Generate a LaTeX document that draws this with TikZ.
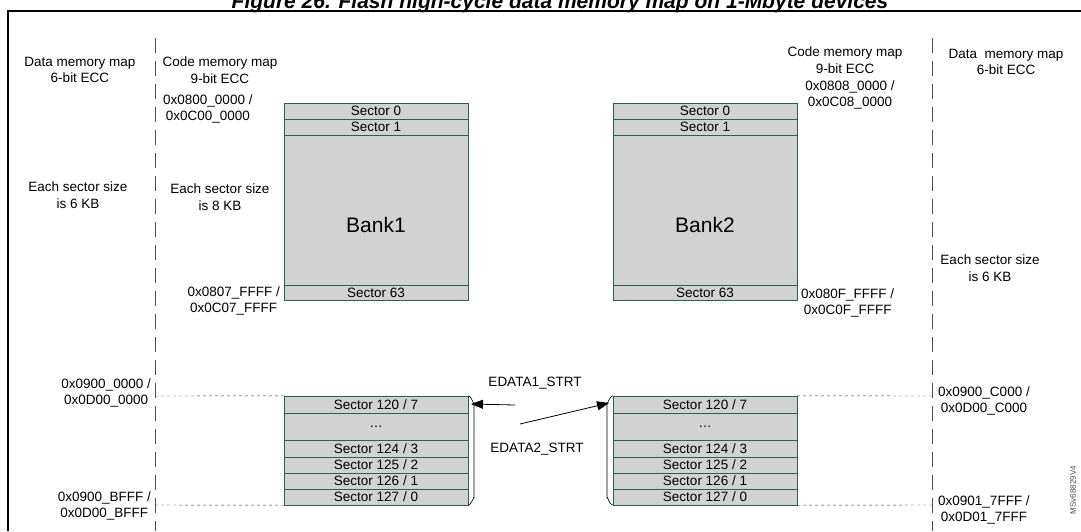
\documentclass[tikz,border=0pt]{standalone}
\usepackage{fontspec}
\setmainfont{Liberation Sans}
\usetikzlibrary{arrows.meta,positioning}
\definecolor{secline}{RGB}{45,95,75}
\definecolor{secfill}{RGB}{210,210,210}

\begin{document}
\begin{tikzpicture}[
    x=1pt, y=-1pt,
    lbl/.style={font=\fontsize{13.5}{16.5}\selectfont, align=center, inner sep=0},
    sec/.style={rectangle, draw=secline, fill=secfill, minimum width=184, inner sep=0, font=\fontsize{13.5}{14}\selectfont},
    sep/.style={dash pattern=on 15pt off 8pt, black!70, thin},
    lim/.style={dashed, black!80, thin},
    ptr/.style={-{Triangle[length=12pt,width=9pt]}, thick},
]
    \useasboundingbox (0,0) rectangle (1081,531);
    % frame and title
    \draw[very thick] (8,531) -- (8,11) -- (1081,11);
    \node[font=\bfseries\itshape\fontsize{21}{23}\selectfont] (title) at (560,3) {Figure 26. Flash high-cycle data memory map on 1-Mbyte devices};
    \draw[sep] (155,38) -- (155,531);
    \draw[sep] (932,38) -- (932,531);

    % Bank1
    \node[sec, minimum height=16] (b1s0) at (376,111) {Sector 0};
    \node[sec, minimum height=16] (b1s1) at (376,127) {Sector 1};
    \node[sec, minimum height=150] (b1body) at (376,210) {};
    \node[sec, minimum height=15] (b1s63) at (376,292.5) {Sector 63};
    \node[font=\fontsize{21}{24}\selectfont] (bank1) at (376,225) {Bank1};
    % Bank2
    \node[sec, minimum height=16] (b2s0) at (705,111) {Sector 0};
    \node[sec, minimum height=16] (b2s1) at (705,127) {Sector 1};
    \node[sec, minimum height=150] (b2body) at (705,210) {};
    \node[sec, minimum height=15] (b2s63) at (705,292.5) {Sector 63};
    \node[font=\fontsize{21}{24}\selectfont] (bank2) at (705,225) {Bank2};

    % data sectors
    \foreach \side/\cx in {L/376, R/705} {
        \node[sec, minimum height=17] (s120\side) at (\cx,404.5) {Sector 120 / 7};
        \node[sec, minimum height=27] (sdots\side) at (\cx,426.5) {\dots};
        \node[sec, minimum height=17] (s124\side) at (\cx,448.5) {Sector 124 / 3};
        \node[sec, minimum height=16] (s125\side) at (\cx,465) {Sector 125 / 2};
        \node[sec, minimum height=16] (s126\side) at (\cx,481) {Sector 126 / 1};
        \node[sec, minimum height=16] (s127\side) at (\cx,497) {Sector 127 / 0};
    }
    % brackets
    \draw[semithick] (s120L.north east) to[out=0,in=-90] (474,403) -- (474,498) to[out=90,in=0] (s127L.south east);
    \draw[semithick] (s120R.north west) to[out=180,in=-90] (607,403) -- (607,498) to[out=90,in=180] (s127R.south west);
    \coordinate (e1tip) at (471,404);
    \coordinate (e2tip) at (609,403);
    \coordinate (e1tail) at (515,405);
    \coordinate (e2tail) at (520,424);
    \draw[ptr] (e1tail) -- (e1tip);
    \draw[ptr] (e2tail) -- (e2tip);
    \node[lbl] (edata1) at (535,383) {EDATA1\_STRT};
    \node[lbl] (edata2) at (537,449) {EDATA2\_STRT};

    % address limits
    \draw[lim] (155,396) -- (s120L.north west);
    \draw[lim] (155,505) -- (s127L.south west);
    \draw[lim] (s120R.north east) -- (932,396);
    \draw[lim] (s127R.south east) -- (932,505);

    % left labels
    \node[lbl] (dmapL) at (80,70) {Data memory map\\6-bit ECC};
    \node[lbl] (cmapL) at (220,70) {Code memory map\\9-bit ECC};
    \node[lbl, anchor=west] (b1start) at (163,109) {0x0800\_0000 /\\0x0C00\_0000};
    \node[lbl] (dsizeL) at (78,195) {Each sector size\\is 6 KB};
    \node[lbl] (csizeL) at (220,197) {Each sector size\\is 8 KB};
    \node[lbl, anchor=east] (b1end) at (280,301) {0x0807\_FFFF /\\0x0C07\_FFFF};
    \node[lbl, anchor=east] (dstartL) at (151,393) {0x0900\_0000 /\\0x0D00\_0000};
    \node[lbl, anchor=east] (dendL) at (151,506) {0x0900\_BFFF /\\0x0D00\_BFFF};
    % right labels
    \node[lbl] (cmapR) at (845,60) {Code memory map\\9-bit ECC};
    \node[lbl] (b2start) at (850,95) {0x0808\_0000 /\\0x0C08\_0000};
    \node[lbl] (dmapR) at (1006,62) {Data\ \ memory map\\6-bit ECC};
    \node[lbl] (dsizeR) at (990,268) {Each sector size\\is 6 KB};
    \node[lbl, anchor=west] (b2end) at (801,303) {0x080F\_FFFF /\\0x0C0F\_FFFF};
    \node[lbl, anchor=west] (dstartR) at (938,401) {0x0900\_C000 /\\0x0D00\_C000};
    \node[lbl, anchor=west] (dendR) at (938,510) {0x0901\_7FFF /\\0x0D01\_7FFF};
    \node[font=\fontsize{8}{9}\selectfont, rotate=90, black!70] (ref) at (1073,490) {MSv68829V4};
\end{tikzpicture}
\end{document}
